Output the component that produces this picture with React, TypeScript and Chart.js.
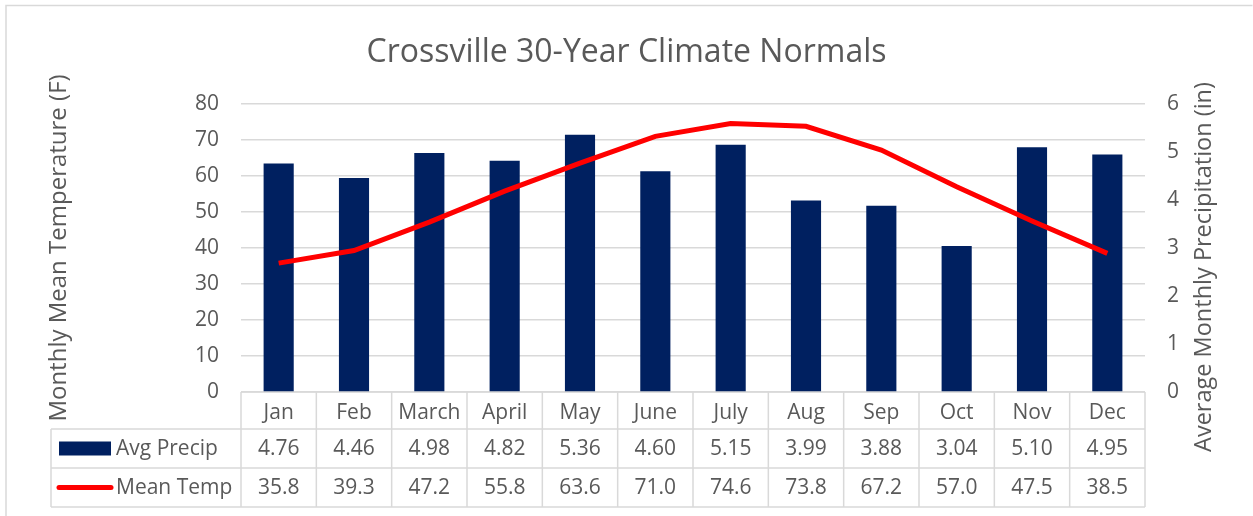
import React, { useEffect, useRef } from "react";
import { Chart, registerables } from "chart.js";

Chart.register(...registerables);

const TITLE = "Crossville 30-Year Climate Normals";
const MONTHS = ["Jan", "Feb", "March", "April", "May", "June", "July", "Aug", "Sep", "Oct", "Nov", "Dec"];
const PRECIP = [4.76, 4.46, 4.98, 4.82, 5.36, 4.6, 5.15, 3.99, 3.88, 3.04, 5.1, 4.95];
const TEMP = [35.8, 39.3, 47.2, 55.8, 63.6, 71.0, 74.6, 73.8, 67.2, 57.0, 47.5, 38.5];
const PRECIP_LABEL = "Avg Precip";
const TEMP_LABEL = "Mean Temp";
const LEFT_TITLE = "Monthly Mean Temperature (F)";
const RIGHT_TITLE = "Average Monthly Precipitation (in)";

const FONT = "'Open Sans', 'Noto Sans', sans-serif";
const TEXT = "#595959";
const GRID = "#d9d9d9";
const NAVY = "#002060";
const RED = "#ff0000";
const FS = 21;

const tablePlugin = {
  id: "dataTable",
  afterDraw(chart: any) {
    const { ctx, chartArea, scales } = chart;
    const xs = scales.x;
    const left = chartArea.left;
    const right = chartArea.right;
    const n = MONTHS.length;
    const colW = (right - left) / n;
    const top = chartArea.bottom;
    const r1 = top + 37;
    const r2 = r1 + 39;
    const r3 = r2 + 39;
    const legendLeft = 51;
    ctx.save();
    ctx.strokeStyle = GRID;
    ctx.lineWidth = 1.5;
    ctx.beginPath();
    ctx.moveTo(6, chart.height + 2);
    ctx.lineTo(6, 5.5);
    ctx.lineTo(chart.width - 0.5, 5.5);
    ctx.stroke();

    const line = (x1: number, y1: number, x2: number, y2: number) => {
      ctx.beginPath();
      ctx.moveTo(x1, y1);
      ctx.lineTo(x2, y2);
      ctx.stroke();
    };
    line(left, top, right, top);
    line(legendLeft, r1, right, r1);
    line(legendLeft, r2, right, r2);
    line(legendLeft, r3, right, r3);
    for (let i = 0; i <= n; i++) {
      const x = left + i * colW;
      line(x, top, x, r3);
    }
    line(legendLeft, r1, legendLeft, r3);

    ctx.fillStyle = TEXT;
    ctx.font = `${FS}px ${FONT}`;
    ctx.textAlign = "center";
    ctx.textBaseline = "middle";
    for (let i = 0; i < n; i++) {
      const cx = xs.getPixelForValue(i);
      ctx.fillText(PRECIP[i].toFixed(2), cx, (r1 + r2) / 2 + 1);
      ctx.fillText(TEMP[i].toFixed(1), cx, (r2 + r3) / 2 + 1);
    }
    ctx.fillStyle = NAVY;
    ctx.fillRect(59, (r1 + r2) / 2 - 7, 52, 14);
    ctx.strokeStyle = RED;
    ctx.lineWidth = 5;
    ctx.lineCap = "round";
    line(59, (r2 + r3) / 2, 111, (r2 + r3) / 2);
    ctx.fillStyle = TEXT;
    ctx.textAlign = "left";
    ctx.fillText(PRECIP_LABEL, 116, (r1 + r2) / 2 + 1);
    ctx.fillText(TEMP_LABEL, 116, (r2 + r3) / 2 + 1);

    ctx.save();
    ctx.translate(1204, 267);
    ctx.rotate(-Math.PI / 2);
    ctx.textAlign = "center";
    ctx.font = `23.5px ${FONT}`;
    ctx.fillText(RIGHT_TITLE, 0, 0);
    ctx.restore();
    ctx.restore();
  },
};

export default function App() {
  const ref = useRef<HTMLCanvasElement>(null);
  useEffect(() => {
    const canvas = ref.current!;
    const chart = new Chart(canvas, {
      type: "bar",
      data: {
        labels: MONTHS,
        datasets: [
          {
            type: "line",
            label: TEMP_LABEL,
            data: TEMP,
            yAxisID: "y",
            borderColor: RED,
            backgroundColor: RED,
            borderWidth: 5,
            pointRadius: 0,
            tension: 0,
            order: 0,
          } as any,
          {
            type: "bar",
            label: PRECIP_LABEL,
            data: PRECIP,
            yAxisID: "y1",
            backgroundColor: NAVY,
            borderWidth: 0,
            categoryPercentage: 1,
            barPercentage: 0.4,
            order: 1,
          },
        ],
      },
      options: {
        responsive: false,
        animation: false,
        layout: { padding: { left: 0, right: 0, top: 0, bottom: 0 } },
        plugins: {
          legend: { display: false },
          tooltip: { enabled: false },
          title: {
            display: true,
            text: TITLE,
            color: TEXT,
            font: { family: FONT, size: 32, weight: "normal" as any },
            padding: { top: 34, bottom: 31.6 },
          },
        },
        scales: {
          x: {
            grid: { display: false },
            border: { display: false },
            ticks: { color: TEXT, font: { family: FONT, size: FS }, padding: 0, maxRotation: 0, autoSkip: false },
            afterFit(scale: any) {
              scale.height = 124;
            },
          },
          y: {
            position: "left",
            min: 0,
            max: 80,
            ticks: { stepSize: 10, color: TEXT, font: { family: FONT, size: FS }, padding: 22 },
            grid: { color: GRID, lineWidth: 1.5, drawTicks: false },
            border: { display: false },
            title: {
              display: true,
              text: LEFT_TITLE,
              color: TEXT,
              font: { family: FONT, size: 24 },
              padding: { top: 45, bottom: 0 },
            },
            afterFit(scale: any) {
              scale.width = 241;
            },
          },
          y1: {
            position: "right",
            min: 0,
            max: 6,
            ticks: { stepSize: 1, color: TEXT, font: { family: FONT, size: FS }, padding: 22 },
            grid: { display: false, drawTicks: false },
            border: { display: false },
            afterFit(scale: any) {
              scale.width = 108;
            },
          },
        },
      },
      plugins: [tablePlugin],
    });
    return () => chart.destroy();
  }, []);
  return (
    <div style={{ position: "fixed", left: 0, top: 0, width: 1253, height: 516, background: "#fff" }}>
      <canvas ref={ref} width={1253} height={516} style={{ display: "block" }} />
    </div>
  );
}
